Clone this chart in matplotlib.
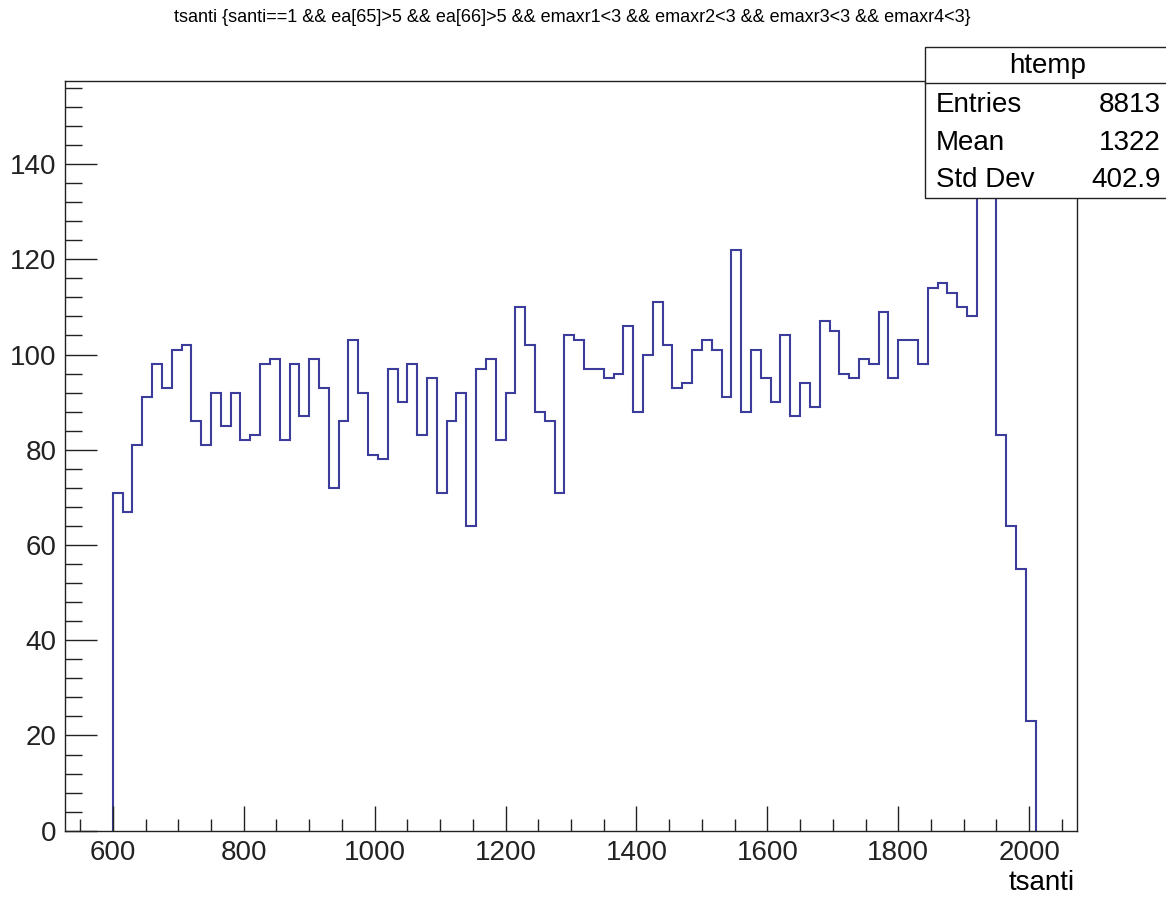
import matplotlib
matplotlib.use('Agg')
import matplotlib.pyplot as plt
import numpy as np
from matplotlib.patches import Rectangle
from matplotlib.lines import Line2D
from matplotlib.ticker import MultipleLocator

FONT = 'Liberation Sans'
LINE_COLOR = '#3c3c9a'
W, H = 1166, 899

# tsanti histogram: 15-wide bins from 600
bin_start = 600
bin_width = 15
counts = [71, 67, 81, 91, 98, 93, 101, 102, 86, 81,
          92, 85, 92, 82, 83, 98, 99, 82, 98, 87,
          99, 93, 72, 86, 103, 92, 79, 78, 97, 90,
          98, 83, 95, 71, 86, 92, 64, 97, 99, 82,
          92, 110, 102, 88, 86, 71, 104, 103, 97, 97,
          95, 96, 106, 88, 100, 111, 102, 93, 94, 101,
          103, 101, 91, 122, 88, 101, 95, 90, 104, 87,
          94, 89, 107, 105, 96, 95, 99, 98, 109, 95,
          103, 103, 98, 114, 115, 113, 110, 108, 144, 150,
          83, 64, 55, 23]

title_text = ('tsanti {santi==1 && ea[65]>5 && ea[66]>5 && emaxr1<3 && '
              'emaxr2<3 && emaxr3<3 && emaxr4<3}')
hist_name = 'htemp'
stat_names = ['Entries', 'Mean', 'Std Dev']
stat_values = ['8813', '1322', '402.9']
x_label = 'tsanti'


def fx(px):
    return px / W


def fy(py):
    return 1 - py / H


plt.rcParams['font.family'] = [FONT, 'DejaVu Sans']

fig = plt.figure(figsize=(W / 100, H / 100), dpi=100)
ax = fig.add_axes([fx(65), fy(830.7), fx(1077 - 65), (830.7 - 80.7) / H])

edges = bin_start + bin_width * np.arange(len(counts) + 1)
ax.stairs(counts, edges, baseline=0, fill=False, color=LINE_COLOR, linewidth=1.5)

ax.set_xlim(527, 2073)
ax.set_ylim(0, max(counts) * 1.05)

ax.xaxis.set_major_locator(MultipleLocator(200))
ax.xaxis.set_minor_locator(MultipleLocator(50))
ax.yaxis.set_major_locator(MultipleLocator(20))
ax.yaxis.set_minor_locator(MultipleLocator(4))

ax.tick_params(axis='both', which='both', direction='in', top=False, right=False,
               width=1.0, colors='#222222', labelsize=20)
ax.tick_params(axis='x', which='major', length=17.8, pad=7)
ax.tick_params(axis='x', which='minor', length=8.9)
ax.tick_params(axis='y', which='major', length=22.8, pad=6)
ax.tick_params(axis='y', which='minor', length=12)
for s in ax.spines.values():
    s.set_linewidth(1.0)
    s.set_color('#222222')

# title and axis title
fig.text(fx(572), fy(18), title_text, ha='center', va='center', fontsize=13)
fig.text(fx(1075), fy(883), x_label, ha='right', va='center', fontsize=20)

# stats box, runs off the right edge
box = Rectangle((fx(925), fy(197.5)), fx(1180 - 925), (197.5 - 47.3) / H,
                transform=fig.transFigure, facecolor='white', edgecolor='#222222',
                linewidth=1.0, zorder=10)
fig.add_artist(box)
fig.add_artist(Line2D([fx(925), fx(1180)], [fy(83.3), fy(83.3)],
                      transform=fig.transFigure, color='#222222', linewidth=1.0, zorder=11))
fig.text(fx(1048), fy(66), hist_name, ha='center', va='center', fontsize=20, zorder=12)
rows_y = [105, 143, 180]
for name, val, yy in zip(stat_names, stat_values, rows_y):
    fig.text(fx(936), fy(yy), name, ha='left', va='center', fontsize=20, zorder=12)
    fig.text(fx(1161), fy(yy), val, ha='right', va='center', fontsize=20, zorder=12)

fig.savefig('out.png', dpi=100)
